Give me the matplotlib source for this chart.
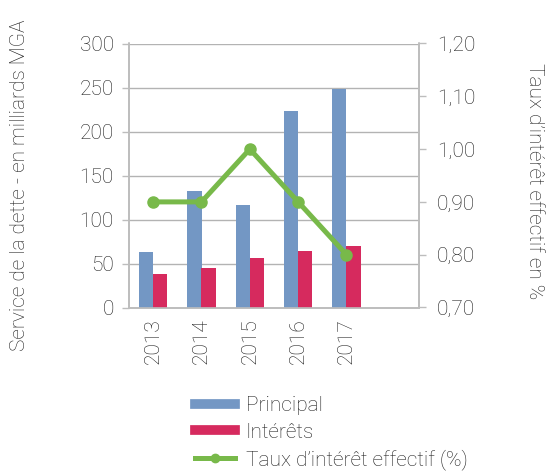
import matplotlib
matplotlib.use("Agg")
import matplotlib.pyplot as plt
from matplotlib.lines import Line2D
import numpy as np

years = ["2013", "2014", "2015", "2016", "2017"]
principal = [63, 132, 116, 223, 248]
interets = [38, 45, 56, 64, 70]
taux = [0.90, 0.90, 1.00, 0.90, 0.80]
left_ticks = [0, 50, 100, 150, 200, 250, 300]
right_ticks = [0.70, 0.80, 0.90, 1.00, 1.10, 1.20]

plt.rcParams['font.family'] = ['Roboto', 'DejaVu Sans']
plt.rcParams['font.weight'] = 'light'
plt.rcParams['axes.labelweight'] = 'light'
txt = '#1e1e1e'
c_blue = '#7397c4'
c_red = '#d62a5e'
c_green = '#78b94a'
grid_c = '#b3b3b3'
spine_c = '#bdbdbd'
fs = 15

fig = plt.figure(figsize=(5.5, 4.72), dpi=100)
ax = fig.add_axes([129/550, 1-307.5/472, 290/550, 264/472])
x = np.arange(len(years))
w = 0.29
ax.bar(x - w/2, principal, w, color=c_blue, zorder=3)
ax.bar(x + w/2, interets, w, color=c_red, zorder=3)
ax.set_xlim(-0.5, 5.5)
ax.set_ylim(0, 300)
ax.set_yticks(left_ticks)
ax.set_xticks(x)
ax.set_xticklabels(years, rotation=90, fontsize=fs, color=txt)
ax.tick_params(axis='x', length=0, pad=8)
ax.tick_params(axis='y', length=5, width=1, color=spine_c, pad=6, labelsize=fs, labelcolor=txt)
ax.yaxis.grid(True, color=grid_c, lw=1, zorder=0)
ax.set_axisbelow(True)
ax.spines['top'].set_visible(False)
for s in ['left', 'right', 'bottom']:
    ax.spines[s].set_color(spine_c)
    ax.spines[s].set_linewidth(1.2)
ax.set_ylabel("Service de la dette - en milliards MGA", fontsize=fs, color=txt, fontweight='light')
ax.yaxis.set_label_coords(-0.345, 0.464)

ax2 = ax.twinx()
ax2.plot(x, taux, color=c_green, lw=3.6, marker='o', ms=8, zorder=5)
ax2.set_ylim(0.70, 1.20)
ax2.set_yticks(right_ticks)
ax2.set_yticklabels([f"{v:.2f}".replace('.', ',') for v in right_ticks])
ax2.tick_params(axis='y', length=5, width=1, color=spine_c, pad=8, labelsize=fs, labelcolor=txt)
ax2.spines['top'].set_visible(False)
for s in ['left', 'right', 'bottom']:
    ax2.spines[s].set_color(spine_c)
    ax2.spines[s].set_linewidth(1.2)
ax2.set_ylabel("Taux d\u2019intérêt effectif en %", fontsize=fs, color=txt, rotation=270,
               va='center', fontweight='light')
ax2.yaxis.set_label_coords(1.40, 0.479)

handles = [
    Line2D([0], [0], color=c_blue, lw=7),
    Line2D([0], [0], color=c_red, lw=7),
    Line2D([0], [0], color=c_green, lw=3.6, marker='o', ms=6),
]
labels = ["Principal", "Intérêts", "Taux d\u2019intérêt effectif (%)"]
leg = fig.legend(handles, labels, loc='upper left', bbox_to_anchor=(195/550, 1-396/472),
                 frameon=False, fontsize=fs, handlelength=1.9, handletextpad=0.53,
                 labelspacing=0.36, borderpad=0, borderaxespad=0)
for t in leg.get_texts():
    t.set_color(txt)

fig.savefig("out.png", dpi=100)
